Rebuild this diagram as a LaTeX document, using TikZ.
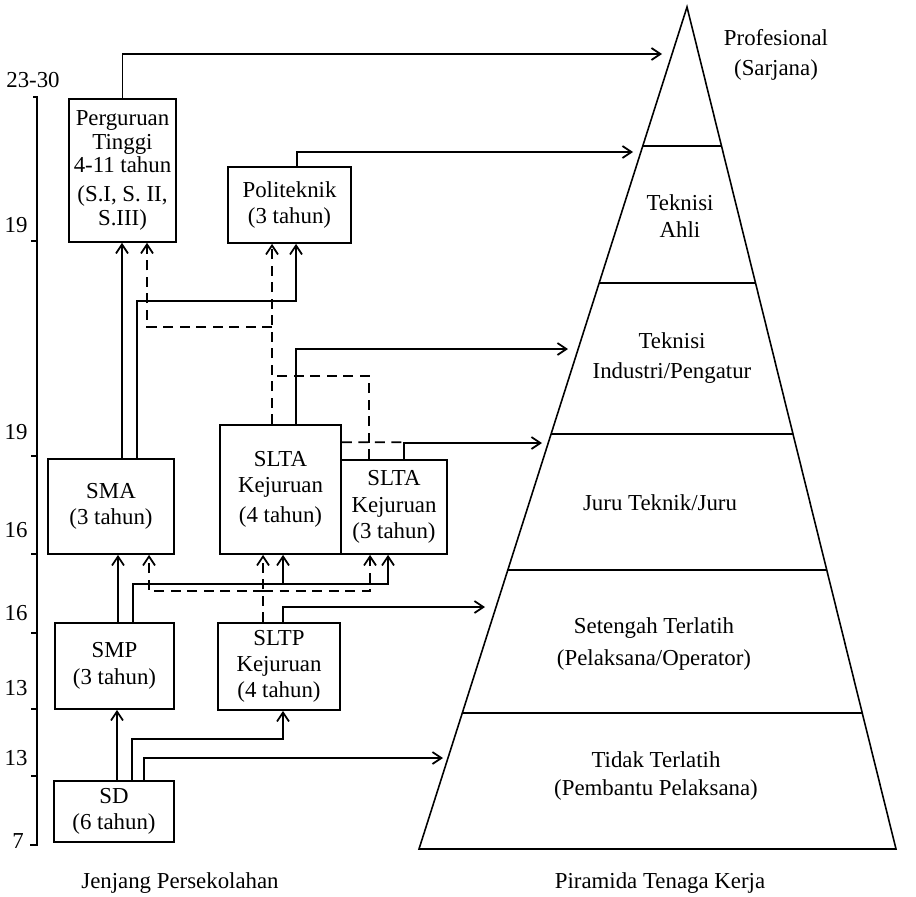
\documentclass[tikz,border=0pt]{standalone}
\usepackage{fontspec}
\setmainfont{Liberation Serif}
\usetikzlibrary{arrows.meta, calc}

\tikzset{
  labelfont/.style={font=\fontsize{13}{15}\selectfont},
  box/.style={draw, line width=1pt, align=center, inner sep=0pt, labelfont},
  conn/.style={line width=1pt, -{Straight Barb[length=0.18cm, width=0.24cm]}},
  dconn/.style={conn, dash pattern=on 0.2cm off 0.13cm},
  dline/.style={line width=1pt, dash pattern=on 0.2cm off 0.13cm},
  pyr/.style={line width=0.9pt},
  axis/.style={line width=1pt},
  tier/.style={align=center, labelfont}
}

\begin{document}
\begin{tikzpicture}[x=0.02cm, y=-0.02cm]
  \useasboundingbox (0,0) rectangle (916,896);

  % Age axis
  \draw[axis] (33,97) -- (37,97) -- (37,845) -- (30,845);
  \draw[axis] (31,241) -- (37,241);
  \draw[axis] (31,456) -- (37,456);
  \draw[axis] (31,554) -- (37,554);
  \draw[axis] (31,633) -- (37,633);
  \draw[axis] (31,709) -- (37,709);
  \draw[axis] (31,776) -- (37,776);
  \node[labelfont] (age2330) at (33,80) {23-30};
  \node[labelfont] (age19a) at (16,225) {19};
  \node[labelfont] (age19b) at (16,432) {19};
  \node[labelfont] (age16a) at (16,530) {16};
  \node[labelfont] (age16b) at (16,613) {16};
  \node[labelfont] (age13a) at (16,688) {13};
  \node[labelfont] (age13b) at (16,758) {13};
  \node[labelfont] (age7) at (18,841) {7};

  % School boxes
  \node[box, minimum width=2.14cm, minimum height=2.86cm, font=\fontsize{13}{13.5}\selectfont] (pt) at (122.5,170.5) {Perguruan\\Tinggi\\4-11 tahun\\[3pt](S.I, S. II,\\S.III)};
  \node[box, minimum width=2.46cm, minimum height=1.52cm] (poli) at (289.5,205) {Politeknik\\(3 tahun)};
  \node[box, minimum width=2.52cm, minimum height=1.90cm] (sma) at (111,506.5) {SMA\\(3 tahun)};
  \node[box, minimum width=2.42cm, minimum height=2.58cm] (sltafour) at (280.5,489.5) {SLTA\\Kejuruan\\[2pt](4 tahun)};
  \node[box, minimum width=2.12cm, minimum height=1.88cm] (sltathree) at (394,507) {SLTA\\Kejuruan\\(3 tahun)};
  \node[box, minimum width=2.38cm, minimum height=1.72cm] (smp) at (114.5,666) {SMP\\(3 tahun)};
  \node[box, minimum width=2.44cm, minimum height=1.74cm] (sltp) at (279,666.5) {SLTP\\Kejuruan\\(4 tahun)};
  \node[box, minimum width=2.40cm, minimum height=1.22cm] (sd) at (114,811.5) {SD\\(6 tahun)};

  % Pyramid
  \coordinate (apex) at (687,7);
  \coordinate (pbl) at (419,849);
  \coordinate (pbr) at (896,849);
  \draw[pyr] (apex) -- (pbl) -- (pbr) -- cycle;
  \draw[pyr] ($(apex)!0.1651!(pbl)$) -- ($(apex)!0.1651!(pbr)$);
  \draw[pyr] ($(apex)!0.3278!(pbl)$) -- ($(apex)!0.3278!(pbr)$);
  \draw[pyr] ($(apex)!0.5071!(pbl)$) -- ($(apex)!0.5071!(pbr)$);
  \draw[pyr] ($(apex)!0.6686!(pbl)$) -- ($(apex)!0.6686!(pbr)$);
  \draw[pyr] ($(apex)!0.8385!(pbl)$) -- ($(apex)!0.8385!(pbr)$);

  % Pyramid tiers
  \node[tier, font=\fontsize{13}{17.5}\selectfont] (prof) at (776,55) {Profesional\\(Sarjana)};
  \node[tier] (ahli) at (680,216) {Teknisi\\Ahli};
  \node[tier, font=\fontsize{13}{17}\selectfont] (industri) at (672,358) {Teknisi\\Industri/Pengatur};
  \node[tier] (juru) at (660,503) {Juru Teknik/Juru};
  \node[tier, font=\fontsize{13}{18}\selectfont] (setengah) at (654,644) {Setengah Terlatih\\(Pelaksana/Operator)};
  \node[tier, font=\fontsize{13}{16}\selectfont] (tidak) at (656,776) {Tidak Terlatih\\(Pembantu Pelaksana)};

  % Captions
  \node[labelfont] (jenjang) at (180,883) {Jenjang Persekolahan};
  \node[labelfont] (piramida) at (660,883) {Piramida Tenaga Kerja};

  % Arrow targets at the pyramid
  \coordinate (toprof) at (662,54);
  \coordinate (toahli) at (633,152);
  \coordinate (toindustri) at (568,349);
  \coordinate (tojuru) at (542,443);
  \coordinate (tosetengah) at (485,607);
  \coordinate (totidak) at (443,758);

  % Paths into the work force
  \draw[conn] (pt.north) |- (toprof);
  \draw[conn] ($(poli.north)+(7.5,0)$) |- (toahli);
  \draw[conn] ($(sltafour.north)+(15.5,0)$) |- (toindustri);
  \draw[conn] ($(sltathree.north)+(10,0)$) |- (tojuru);
  \draw[conn] ($(sltp.north)+(4,0)$) |- (tosetengah);
  \draw[conn] ($(sd.north)+(30,0)$) |- (totidak);

  % Solid school paths
  \draw[conn] ($(sma.north)+(11,0)$) -- ($(pt.south)+(-0.5,0)$);
  \draw[conn] ($(sma.north)+(26,0)$) |- ($(poli.south)+(6.5,57)$) -- ($(poli.south)+(6.5,0)$);
  \draw[conn] ($(smp.north)+(3.5,0)$) -- ($(sma.south)+(7,0)$);
  \draw[conn] ($(smp.north)+(18.5,0)$) |- ($(sltathree.south)+(-6,29)$) -- ($(sltathree.south)+(-6,0)$);
  \draw[conn] ($(sltafour.south)+(2.5,29)$) -- ($(sltafour.south)+(2.5,0)$);
  \draw[conn] ($(sd.north)+(3,0)$) -- ($(smp.south)+(2.5,0)$);
  \draw[conn] ($(sd.north)+(18,0)$) |- ($(sltp.south)+(4,28)$) -- ($(sltp.south)+(4,0)$);

  % Dashed school paths
  \draw[dconn] ($(sltafour.north)+(-8.5,0)$) -- ($(poli.south)+(-17.5,0)$);
  \draw[dconn] ($(poli.south)+(-17.5,83)$) -| ($(pt.south)+(24.5,0)$);
  \draw[dline] ($(sltathree.north)+(-25,0)$) |- ($(sltafour.north)+(-8.5,-48)$);
  \draw[dline] ($(sltafour.north east)+(0,18)$) -- ($(sltathree.north)+(10,-17)$);
  \draw[dconn] ($(sltp.north)+(-16,0)$) -- ($(sltafour.south)+(-17.5,0)$);
  \draw[dconn] ($(sltp.north)+(-16,-31)$) -| ($(sma.south)+(38,0)$);
  \draw[dconn] ($(sltp.north)+(-16,-31)$) -| ($(sltathree.south)+(-24,0)$);
\end{tikzpicture}
\end{document}
